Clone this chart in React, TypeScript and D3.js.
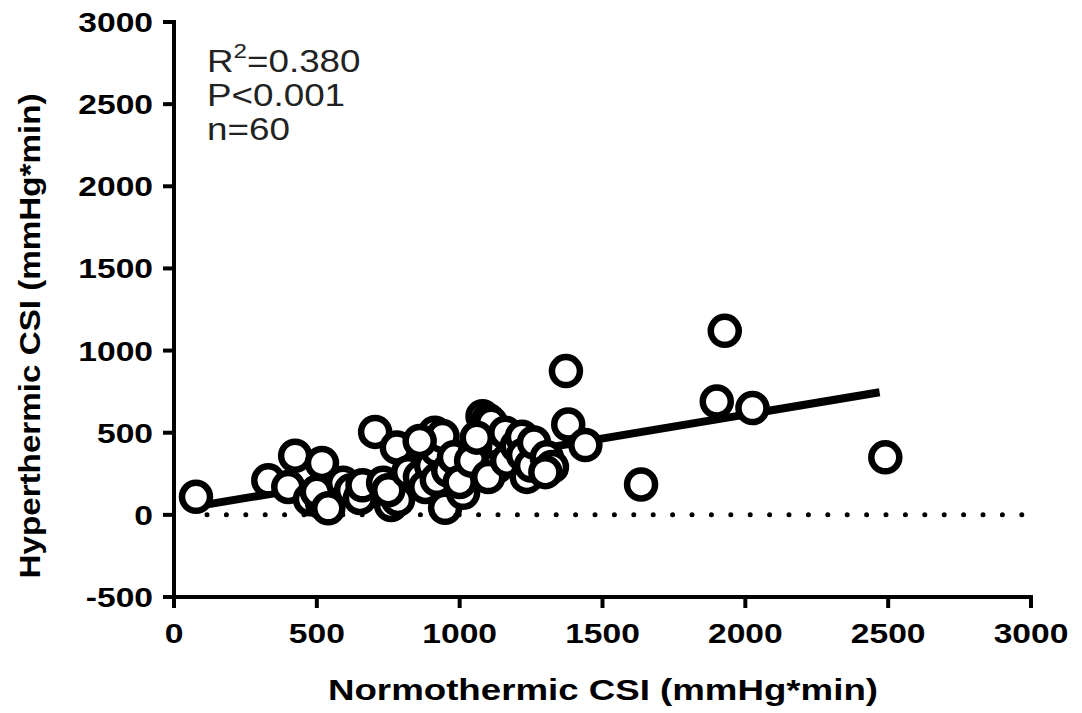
import React from "react";
import * as d3 from "d3";

const normothermic: number[] = [
  77, 330, 424, 400, 476, 518, 518, 500, 540, 592,
  620, 651, 660, 704, 732, 760, 780, 784, 750, 820,
  861, 880, 900, 913, 920, 920, 949, 940, 960, 980,
  1012, 1000, 1054, 1040, 1080, 1099, 1110, 1130, 1100, 1160,
  1166, 1200, 1218, 1222, 1235, 1250, 1260, 1305, 1323, 1300,
  1372, 1380, 1440, 1635, 1900, 1928, 2025, 2490, 860, 1060,
];
const hyperthermic: number[] = [
  110, 210, 360, 170, 95, 316, 73, 140, 40, 195,
  150, 103, 180, 505, 195, 60, 410, 91, 150, 260,
  231, 170, 300, 500, 396, 213, 43, 480, 270, 350,
  134, 200, 414, 330, 600, 578, 560, 292, 230, 500,
  330, 420, 475, 365, 231, 300, 440, 350, 292, 260,
  875, 550, 425, 185, 690, 1120, 650, 350, 450, 470,
];
const xTicks = [0, 500, 1000, 1500, 2000, 2500, 3000];
const yTicks = [-500, 0, 500, 1000, 1500, 2000, 2500, 3000];
const fitSlope = 0.29;
const fitIntercept = 30;
const fitRange = [80, 2470];

function stretch(cx: number, k: number) {
  return `translate(${cx},0) scale(${k},1) translate(${-cx},0)`;
}

export default function App() {
  const W = 1082, H = 713;
  const x = d3.scaleLinear().domain([0, 3000]).range([174, 1031]);
  const y = d3.scaleLinear().domain([-500, 3000]).range([597, 22]);
  const font = "'Liberation Sans', Arial, sans-serif";
  const line = d3.line<number>().x((v) => x(v)).y((v) => y(fitSlope * v + fitIntercept));
  return (
    <svg width={W} height={H} style={{ position: "absolute", left: 0, top: 0, background: "#fff" }}>
      {/* dotted zero line */}
      <line x1={x(0) + 33} x2={x(3000)} y1={y(0)} y2={y(0)} stroke="#000" strokeWidth={5}
        strokeLinecap="round" strokeDasharray="0 19.4" />
      {/* axes */}
      <line x1={x(0)} x2={x(0)} y1={y(-500) + 2} y2={y(3000) - 2} stroke="#000" strokeWidth={4} />
      <line x1={x(0) - 2} x2={x(3000) + 2} y1={y(-500)} y2={y(-500)} stroke="#000" strokeWidth={4} />
      {yTicks.map((t) => (
        <g key={"y" + t}>
          <line x1={x(0) - 11} x2={x(0)} y1={y(t)} y2={y(t)} stroke="#000" strokeWidth={4} />
          <text x={x(0) - 21} y={y(t)} dy="0.36em" textAnchor="end" fontFamily={font}
            fontWeight="bold" fontSize={28} transform={stretch(x(0) - 21, 1.2)}>{t}</text>
        </g>
      ))}
      {xTicks.map((t) => (
        <g key={"x" + t}>
          <line x1={x(t)} x2={x(t)} y1={y(-500)} y2={y(-500) + 11} stroke="#000" strokeWidth={4} />
          <text x={x(t)} y={643} textAnchor="middle" fontFamily={font} fontWeight="bold" fontSize={28}
            transform={stretch(x(t), 1.2)}>{t}</text>
        </g>
      ))}
      <text x={603} y={700} textAnchor="middle" fontFamily={font} fontWeight="bold" fontSize={29}
        textLength={550} lengthAdjust="spacingAndGlyphs">Normothermic CSI (mmHg*min)</text>
      <text transform={`translate(40,336) rotate(-90)`} textAnchor="middle" fontFamily={font}
        fontWeight="bold" fontSize={29} textLength={485} lengthAdjust="spacingAndGlyphs">Hyperthermic CSI (mmHg*min)</text>
      {/* regression line */}
      <path d={line(fitRange) ?? ""} stroke="#000" strokeWidth={8} fill="none" />
      {/* points */}
      {normothermic.map((v, i) => (
        <circle key={i} cx={x(v)} cy={y(hyperthermic[i])} r={14} fill="#fff" stroke="#000" strokeWidth={6.5} />
      ))}
      {/* stats */}
      <g fontFamily={font} fontSize={32} fill="#222" transform={stretch(207, 1.15)}>
        <text x={207} y={72}>R<tspan dy={-14} fontSize={21}>2</tspan><tspan dy={14}>=0.380</tspan></text>
        <text x={207} y={106}>P&lt;0.001</text>
        <text x={207} y={140}>n=60</text>
      </g>
    </svg>
  );
}
